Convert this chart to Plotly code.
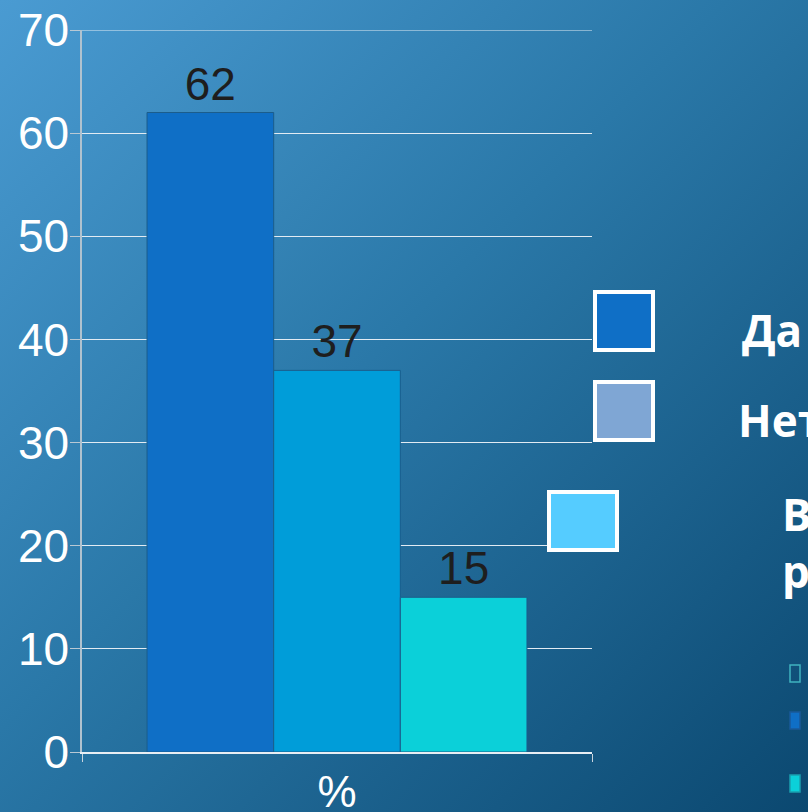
import base64
import plotly.graph_objects as go

# ---- data ----
category = ["%"]
series_names = ["Да", "Нет", "Всё равно"]
series_values = [62, 37, 15]
bar_colors = ["#0f6fc6", "#009dd9", "#0bd0d9"]
legend_colors = ["#0f6fc6", "#7fa6d4", "#55ccff"]
y_ticks = [0, 10, 20, 30, 40, 50, 60, 70]

W, H = 808, 812
L, R, T, B = 82, 216, 30, 60
PW, PH = W - L - R, H - T - B


def px(x):
    return (x - L) / PW


def py(y):
    return (H - B - y) / PH


fig = go.Figure()
for name, val, col in zip(series_names, series_values, bar_colors):
    fig.add_trace(go.Bar(
        x=category, y=[val], name=name,
        marker=dict(color=col, line=dict(color="#1b5d8c", width=1)),
        text=[str(val)], textposition="outside",
        textfont=dict(family="Liberation Sans, Arial", size=46, color="#1e1e1e"),
        cliponaxis=False,
    ))

# gradient background as an SVG data URI
svg = (
    f'<svg xmlns="http://www.w3.org/2000/svg" width="{W}" height="{H}">'
    '<defs><linearGradient id="g" x1="0" y1="0" x2="1" y2="1">'
    '<stop offset="0" stop-color="#4a9bd2"/>'
    '<stop offset="0.45" stop-color="#2a78a8"/>'
    '<stop offset="1" stop-color="#0b4870"/>'
    '</linearGradient></defs>'
    f'<rect width="{W}" height="{H}" fill="url(#g)"/></svg>'
)
src = "data:image/svg+xml;base64," + base64.b64encode(svg.encode()).decode()

GRID = "#e2ebf3"
shapes = []
annotations = []
# top gridline (at the upper end of the range)
shapes.append(dict(type="line", xref="paper", yref="y", x0=0, x1=1,
                   y0=y_ticks[-1], y1=y_ticks[-1], line=dict(color=GRID, width=1)))
# custom legend squares
sq = [(595, 653, 292, 350), (595, 653, 382, 440), (549, 617, 492, 550)]
for (x0, x1, y0, y1), col in zip(sq, legend_colors):
    shapes.append(dict(type="rect", xref="paper", yref="paper",
                       x0=px(x0), x1=px(x1), y0=py(y1), y1=py(y0),
                       fillcolor=col, line=dict(color="white", width=4), layer="above"))
leg_text = [("Да", 740, 330), ("Нет", 736, 420), ("Всё<br>равно", 780, 542)]
for t, x, y in leg_text:
    annotations.append(dict(text=t, xref="paper", yref="paper", x=px(x), y=py(y),
                            xanchor="left", yanchor="middle", showarrow=False, align="left",
                            font=dict(family="Open Sans, Noto Sans", size=44, color="white",
                                      weight="bold")))
# small legend glyphs at the bottom right
small = [(790, 800, 665, 682, "rgba(0,0,0,0)", "#3fb3c0"),
         (790, 800, 712, 729, "#0f6fc6", "#1a5a99"),
         (790, 800, 775, 792, "#0bd0d9", "#1aa0b0")]
for x0, x1, y0, y1, fc, lc in small:
    shapes.append(dict(type="rect", xref="paper", yref="paper",
                       x0=px(x0), x1=px(x1), y0=py(y1), y1=py(y0),
                       fillcolor=fc, line=dict(color=lc, width=1.5)))

fig.update_layout(
    width=W, height=H,
    margin=dict(l=L, r=R, t=T, b=B, autoexpand=False),
    paper_bgcolor="#1f6a9a", plot_bgcolor="rgba(0,0,0,0)",
    images=[dict(source=src, xref="paper", yref="paper",
                 x=px(0), y=py(0), sizex=W / PW, sizey=H / PH,
                 xanchor="left", yanchor="top", sizing="stretch", layer="below")],
    barmode="group", bargap=0.255, bargroupgap=0,
    showlegend=False,
    shapes=shapes, annotations=annotations,
    font=dict(family="Liberation Sans, Arial", color="white"),
)
fig.update_yaxes(range=[0, 70], tickvals=y_ticks, ticks="outside", ticklen=10,
                 tickcolor="#b8c8d4", showgrid=True, gridcolor=GRID,
                 gridwidth=1, showline=True, linecolor="#b0c2cf", linewidth=1.5,
                 zeroline=False, ticklabelstandoff=-8, automargin=False,
                 tickfont=dict(size=46, color="white", family="Liberation Sans, Arial"))
fig.update_xaxes(ticks="outside", tickson="boundaries", ticklen=8, tickcolor="#c8d4de",
                 showline=True, linecolor="#e8eef4", linewidth=1.5, automargin=False,
                 tickfont=dict(size=44, color="white", family="Liberation Sans, Arial"))

fig.write_html("out.html", config={"displayModeBar": False},
               post_script="document.body.style.margin='0';document.body.style.overflow='hidden';")
